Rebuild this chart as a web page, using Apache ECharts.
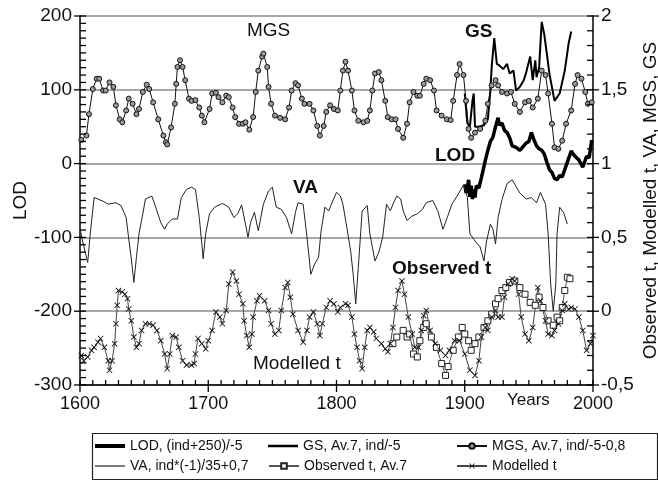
<!DOCTYPE html>
<html>
<head>
<meta charset="utf-8">
<script src="https://cdn.jsdelivr.net/npm/echarts@6/dist/echarts.min.js"></script>
<style>
  html, body { margin: 0; padding: 0; background: #fff; }
  #chart { width: 658px; height: 481px; }
</style>
</head>
<body>
<div id="chart"></div>
<script>
// values (LOD on the left axis, the rest on the right axis)
const lodYears = [1900,1901,1902,1903,1904,1905,1906,1907,1908,1909,1911,1913,1916,1918,1920,1922,1924,1926,1927,1929,1931,1933,1935,1937,1940,1943,1945,1948,1950,1952,1954,1956,1958,1960,1962,1964,1966,1968,1970,1972,1974,1976,1978,1980,1983,1985,1987,1989,1992,1995,1997,1999]
const lodValues = [-28,-40,-33,-22,-45,-30,-48,-35,-46,-30,-33,-19,4,18,30,36,50,62,52,55,45,42,35,24,22,18,22,28,30,42,32,24,20,18,13,2,-8,-12,-20,-22,-16,-18,-8,2,17,12,8,5,-5,10,8,32]

const gsYears = [1900,1902,1904,1906,1907,1908,1911,1915,1918,1920,1921,1923,1925,1927,1930,1933,1935,1938,1940,1943,1946,1948,1951,1953,1955,1956,1958,1960,1962,1964,1966,1970,1974,1978,1981,1983]
const gsValues = [1.475,1.275,1.25,1.425,1.475,1.25,1.25,1.26,1.3,1.5,1.655,1.85,1.675,1.665,1.64,1.675,1.61,1.63,1.495,1.52,1.565,1.62,1.725,1.565,1.7,1.585,1.655,1.96,1.875,1.745,1.61,1.425,1.475,1.63,1.815,1.895]

const mgsYears = [1601,1605,1607,1610,1613,1615,1618,1620,1623,1626,1628,1631,1633,1636,1638,1641,1644,1646,1649,1652,1654,1657,1661,1665,1667,1668,1671,1674,1675,1676,1678,1680,1682,1685,1687,1690,1693,1695,1697,1701,1703,1706,1708,1711,1714,1716,1719,1721,1724,1727,1729,1732,1735,1737,1739,1742,1743,1746,1747,1749,1752,1756,1760,1763,1765,1768,1770,1773,1775,1779,1782,1785,1787,1790,1792,1795,1798,1801,1803,1805,1807,1809,1812,1814,1817,1821,1824,1826,1828,1830,1833,1835,1838,1840,1843,1846,1848,1852,1855,1857,1860,1863,1865,1868,1870,1873,1876,1878,1882,1886,1889,1891,1894,1896,1899,1901,1903,1905,1908,1912,1916,1918,1921,1924,1926,1929,1933,1936,1939,1943,1947,1950,1953,1957,1960,1963,1965,1968,1970,1973,1976,1979,1983,1986,1988,1991,1994,1996,1999]
const mgsValues = [1.16,1.19,1.335,1.505,1.575,1.575,1.495,1.495,1.55,1.52,1.395,1.3,1.28,1.36,1.44,1.405,1.335,1.37,1.485,1.535,1.505,1.415,1.3,1.19,1.145,1.13,1.245,1.405,1.54,1.655,1.7,1.655,1.565,1.44,1.425,1.43,1.38,1.325,1.28,1.37,1.475,1.48,1.45,1.415,1.46,1.45,1.38,1.315,1.27,1.27,1.28,1.23,1.315,1.485,1.63,1.725,1.745,1.655,1.52,1.405,1.325,1.31,1.3,1.38,1.495,1.545,1.53,1.44,1.405,1.405,1.36,1.255,1.19,1.255,1.35,1.395,1.37,1.36,1.495,1.63,1.69,1.63,1.495,1.36,1.29,1.28,1.29,1.36,1.495,1.61,1.62,1.565,1.425,1.315,1.3,1.3,1.235,1.175,1.27,1.415,1.485,1.46,1.46,1.54,1.575,1.565,1.495,1.36,1.325,1.3,1.295,1.425,1.6,1.675,1.6,1.425,1.235,1.175,1.21,1.235,1.29,1.405,1.53,1.565,1.53,1.485,1.475,1.485,1.405,1.35,1.415,1.425,1.38,1.44,1.63,1.6,1.475,1.27,1.11,1.1,1.155,1.27,1.36,1.54,1.6,1.575,1.485,1.405,1.415]

const vaYears = [1600,1602,1606,1608,1611,1614,1618,1622,1625,1628,1632,1636,1638,1640,1642,1644,1646,1649,1651,1656,1659,1663,1666,1668,1672,1676,1679,1683,1687,1690,1693,1695,1696,1698,1701,1705,1711,1716,1720,1723,1726,1729,1731,1733,1736,1739,1743,1747,1750,1753,1757,1761,1765,1768,1770,1774,1777,1780,1783,1786,1788,1791,1794,1796,1800,1803,1805,1808,1811,1813,1815,1817,1820,1824,1826,1830,1833,1836,1839,1842,1844,1847,1850,1852,1855,1859,1863,1867,1870,1875,1879,1883,1886,1890,1894,1899,1902,1904,1908,1912,1915,1917,1920,1922,1924,1926,1929,1933,1937,1940,1943,1948,1952,1956,1959,1963,1965,1967,1969,1971,1972,1974,1977,1980]
const vaValues = [0.56,0.475,0.33,0.525,0.77,0.76,0.745,0.725,0.73,0.735,0.715,0.635,0.49,0.355,0.195,0.365,0.525,0.66,0.76,0.78,0.705,0.6,0.555,0.59,0.625,0.625,0.77,0.825,0.84,0.825,0.635,0.455,0.355,0.525,0.66,0.705,0.73,0.705,0.635,0.66,0.72,0.59,0.5,0.6,0.67,0.545,0.725,0.815,0.84,0.705,0.69,0.635,0.525,0.67,0.735,0.725,0.5,0.25,0.32,0.365,0.545,0.705,0.68,0.725,0.805,0.78,0.725,0.57,0.41,0.25,0.05,0.295,0.68,0.715,0.525,0.34,0.4,0.5,0.725,0.68,0.725,0.78,0.76,0.68,0.615,0.645,0.66,0.69,0.735,0.75,0.68,0.555,0.625,0.725,0.78,0.855,0.775,0.525,0.475,0.435,0.34,0.475,0.59,0.555,0.455,0.635,0.755,0.865,0.89,0.845,0.8,0.76,0.77,0.735,0.805,0.725,0.525,0.185,0.0,0.185,0.525,0.705,0.67,0.59]

const obsYears = [1844,1847,1852,1855,1857,1860,1863,1865,1868,1870,1874,1878,1882,1885,1887,1891,1895,1898,1900,1903,1905,1908,1911,1915,1918,1921,1924,1926,1929,1932,1935,1939,1943,1947,1951,1955,1958,1961,1965,1969,1972,1974,1976,1978,1980,1982]
const obsValues = [-0.22,-0.175,-0.13,-0.175,-0.155,-0.29,-0.31,-0.2,-0.11,-0.085,-0.175,-0.245,-0.355,-0.435,-0.375,-0.265,-0.175,-0.11,-0.155,-0.2,-0.265,-0.22,-0.175,-0.11,-0.065,-0.02,0.05,0.085,0.14,0.16,0.195,0.205,0.16,0.115,0.06,0.04,0.095,0.025,-0.065,-0.095,-0.04,-0.065,0.025,0.14,0.23,0.22]

const modYears = [1601,1603,1606,1609,1611,1614,1616,1619,1622,1623,1625,1627,1628,1629,1630,1633,1635,1637,1638,1640,1642,1644,1646,1648,1651,1654,1657,1660,1663,1666,1668,1670,1672,1675,1677,1680,1683,1687,1689,1690,1692,1695,1698,1700,1703,1706,1709,1711,1714,1716,1719,1722,1724,1727,1728,1730,1732,1734,1735,1738,1740,1744,1747,1749,1752,1755,1757,1760,1762,1764,1766,1770,1774,1777,1779,1782,1785,1787,1789,1792,1795,1798,1801,1803,1807,1809,1812,1814,1816,1818,1820,1822,1824,1826,1829,1831,1835,1838,1840,1842,1844,1846,1848,1851,1853,1856,1859,1861,1864,1866,1868,1870,1873,1877,1881,1885,1888,1892,1896,1900,1904,1908,1911,1913,1916,1918,1921,1924,1926,1929,1931,1934,1937,1939,1942,1944,1947,1950,1953,1957,1959,1963,1965,1968,1970,1973,1976,1978,1981,1983,1986,1989,1992,1995,1998,2000]
const modValues = [-0.3,-0.335,-0.31,-0.265,-0.245,-0.21,-0.185,-0.245,-0.335,-0.4,-0.335,-0.22,-0.085,0.04,0.14,0.13,0.115,0.085,0.015,-0.065,-0.175,-0.245,-0.22,-0.13,-0.085,-0.085,-0.095,-0.13,-0.2,-0.29,-0.39,-0.29,-0.165,-0.175,-0.245,-0.335,-0.365,-0.365,-0.355,-0.29,-0.185,-0.22,-0.255,-0.2,-0.13,-0.005,-0.04,-0.085,0.005,0.185,0.265,0.205,0.115,0.05,-0.065,-0.165,-0.245,-0.155,-0.04,0.07,0.105,0.07,0.005,-0.085,-0.155,-0.13,0.005,0.16,0.195,0.095,-0.02,-0.13,-0.21,-0.13,-0.04,-0.005,-0.085,-0.165,-0.085,0.025,0.07,0.05,-0.005,0.025,0.05,0.04,-0.04,-0.155,-0.245,-0.335,-0.39,-0.245,-0.13,-0.11,-0.14,-0.185,-0.22,-0.255,-0.275,-0.22,-0.11,0.025,0.14,0.205,0.115,-0.04,-0.155,-0.245,-0.245,-0.13,-0.03,0.005,-0.13,-0.22,-0.265,-0.3,-0.265,-0.2,-0.2,-0.29,-0.4,-0.435,-0.335,-0.175,-0.11,-0.13,-0.04,0.005,-0.04,-0.04,0.095,0.185,0.22,0.205,0.115,-0.04,-0.155,-0.2,-0.11,0.16,0.07,-0.065,-0.155,-0.165,-0.13,-0.085,0.005,0.05,0.015,0.025,0.015,-0.04,-0.13,-0.265,-0.22,-0.165]

// tick positions (axis decoration only)
const yearTicks = []
for (let yr = 1600; yr <= 2000; yr += 10) yearTicks.push(yr)
const lodTicks = []
for (let v = -300; v <= 200; v += 10) lodTicks.push(v)
const rightTicks = []
for (let k = -5; k <= 20; k++) rightTicks.push(k / 10)

const font = "'Liberation Sans', Arial, sans-serif"
const zip = (xs, ys) => xs.map((x, i) => [x, ys[i]])
const crossPath = 'path://M0,1L1,0L5,4L9,0L10,1L6,5L10,9L9,10L5,6L1,10L0,9L4,5Z'

const chart = echarts.init(document.getElementById('chart'))

// one legend per item so the two rows and three columns line up like the original box
function legendItem(name, left, top, icon, itemHeight) {
  const l = {
    left: left, top: top, itemWidth: 30, itemHeight: itemHeight, itemGap: 4,
    padding: 0,
    textStyle: { fontSize: 14, color: '#111', fontFamily: font },
    data: [name]
  }
  if (icon) l.icon = icon
  return l
}

// short tick strokes drawn through api.coord so they sit exactly on the axis scale
function tickSeries(yAxisIndex, data, draw) {
  return {
    type: 'custom', xAxisIndex: 0, yAxisIndex: yAxisIndex, silent: true, z: 10,
    clip: false, tooltip: { show: false },
    data: data, encode: { x: 0, y: 1 },
    renderItem: (params, api) => {
      const p = api.coord([api.value(0), api.value(1)])
      const s = draw(p, api.value(0), api.value(1))
      return { type: 'line', shape: s, style: { stroke: '#000', lineWidth: 1.3 } }
    }
  }
}

const option = {
  animation: false,
  backgroundColor: '#fff',
  textStyle: { fontFamily: font },
  grid: { left: 80, right: 65, top: 16, bottom: 96, outerBoundsMode: 'none' },
  xAxis: {
    type: 'value', min: 1600, max: 2000, interval: 100,
    axisLine: { show: true, onZero: false, lineStyle: { color: '#000', width: 1.5 } },
    axisTick: { show: false },
    axisLabel: { fontSize: 18, color: '#111', margin: 10, fontFamily: font, formatter: v => String(v) },
    splitLine: { show: false }
  },
  yAxis: [
    {
      type: 'value', min: -300, max: 200, interval: 100, position: 'left',
      name: 'LOD', nameLocation: 'middle', nameGap: 50, nameMoveOverlap: false,
      nameTextStyle: { fontSize: 19, color: '#111', fontFamily: font },
      axisLine: { show: true, onZero: false, lineStyle: { color: '#000', width: 1.5 } },
      axisTick: { show: false },
      axisLabel: { fontSize: 19, color: '#111', margin: 8, fontFamily: font },
      splitLine: { show: true, lineStyle: { color: '#8a8a8a', width: 1.5 } }
    },
    {
      type: 'value', min: -0.5, max: 2, interval: 0.5, position: 'right',
      name: 'Observed t, Modelled t, VA, MGS, GS', nameLocation: 'middle', nameGap: 48, nameRotate: 90,
      nameMoveOverlap: false,
      nameTextStyle: { fontSize: 19, color: '#111', fontFamily: font },
      axisLine: { show: true, onZero: false, lineStyle: { color: '#000', width: 1.5 } },
      axisTick: { show: false },
      axisLabel: { fontSize: 19, color: '#111', margin: 8, fontFamily: font,
        formatter: v => String(v).replace('.', ',') },
      splitLine: { show: false }
    }
  ],
  legend: [
    legendItem('LOD, (ind+250)/-5', 95, 439, 'rect', 4),
    legendItem('VA, ind*(-1)/35+0,7', 95, 459, 'rect', 1.2),
    legendItem('GS, Av.7, ind/-5', 268, 439, 'rect', 2.5),
    legendItem('Observed t, Av.7', 268, 459, null, 7),
    legendItem('MGS, Av.7, ind/-5-0,8', 456, 439, null, 7),
    legendItem('Modelled t', 456, 459, null, 7)
  ],
  graphic: [
    { type: 'rect', left: 90, top: 431, shape: { width: 565, height: 46 },
      style: { fill: 'none', stroke: '#222', lineWidth: 1.2 } },
    { type: 'text', left: 247, top: 21, style: { text: 'MGS', font: '19px ' + font, fill: '#111' } },
    { type: 'text', left: 465, top: 22, style: { text: 'GS', font: 'bold 19px ' + font, fill: '#111' } },
    { type: 'text', left: 435, top: 146, style: { text: 'LOD', font: 'bold 19px ' + font, fill: '#111' } },
    { type: 'text', left: 293, top: 178, style: { text: 'VA', font: 'bold 19px ' + font, fill: '#111' } },
    { type: 'text', left: 392, top: 259, style: { text: 'Observed t', font: 'bold 19px ' + font, fill: '#111' } },
    { type: 'text', left: 253, top: 354, style: { text: 'Modelled t', font: '19px ' + font, fill: '#111' } },
    { type: 'text', left: 507, top: 392, style: { text: 'Years', font: '17px ' + font, fill: '#111' } }
  ],
  series: [
    {
      name: 'LOD, (ind+250)/-5', type: 'line', yAxisIndex: 0,
      data: zip(lodYears, lodValues), symbol: 'none',
      lineStyle: { color: '#000', width: 3.5 }, itemStyle: { color: '#000' }
    },
    {
      name: 'GS, Av.7, ind/-5', type: 'line', yAxisIndex: 1,
      data: zip(gsYears, gsValues), symbol: 'none',
      lineStyle: { color: '#000', width: 2 }, itemStyle: { color: '#000' }
    },
    {
      name: 'MGS, Av.7, ind/-5-0,8', type: 'line', yAxisIndex: 1,
      data: zip(mgsYears, mgsValues), symbol: 'circle', symbolSize: 5,
      lineStyle: { color: '#111', width: 1 },
      itemStyle: { color: '#9a9a9a', borderColor: '#111', borderWidth: 1 }
    },
    {
      name: 'VA, ind*(-1)/35+0,7', type: 'line', yAxisIndex: 1,
      data: zip(vaYears, vaValues), symbol: 'none',
      lineStyle: { color: '#222', width: 1 }, itemStyle: { color: '#222' }
    },
    {
      name: 'Observed t, Av.7', type: 'line', yAxisIndex: 1,
      data: zip(obsYears, obsValues), symbol: 'rect', symbolSize: 6,
      lineStyle: { color: '#555', width: 1 },
      itemStyle: { color: '#fff', borderColor: '#222', borderWidth: 1 }
    },
    {
      name: 'Modelled t', type: 'line', yAxisIndex: 1,
      data: zip(modYears, modValues), symbol: crossPath, symbolSize: 6,
      lineStyle: { color: '#444', width: 1 },
      itemStyle: { color: '#111' }
    },
    // bottom axis: minor ticks inside, centuries also poke out below
    tickSeries(0, yearTicks.map(y => [y, -300]), (p, yr) => ({
      x1: p[0], y1: p[1] - 5, x2: p[0], y2: p[1] + (yr % 100 === 0 ? 7 : 0)
    })),
    // left axis
    tickSeries(0, lodTicks.map(v => [1600, v]), (p, x, v) => ({
      x1: p[0] + 6, y1: p[1], x2: p[0] - (v % 100 === 0 ? 6 : 0), y2: p[1]
    })),
    // right axis
    tickSeries(1, rightTicks.map(v => [2000, v]), (p, x, v) => ({
      x1: p[0] - 6, y1: p[1], x2: p[0] + (Math.abs(v * 2 - Math.round(v * 2)) < 1e-6 ? 6 : 0), y2: p[1]
    }))
  ]
}

chart.setOption(option)
</script>
</body>
</html>
